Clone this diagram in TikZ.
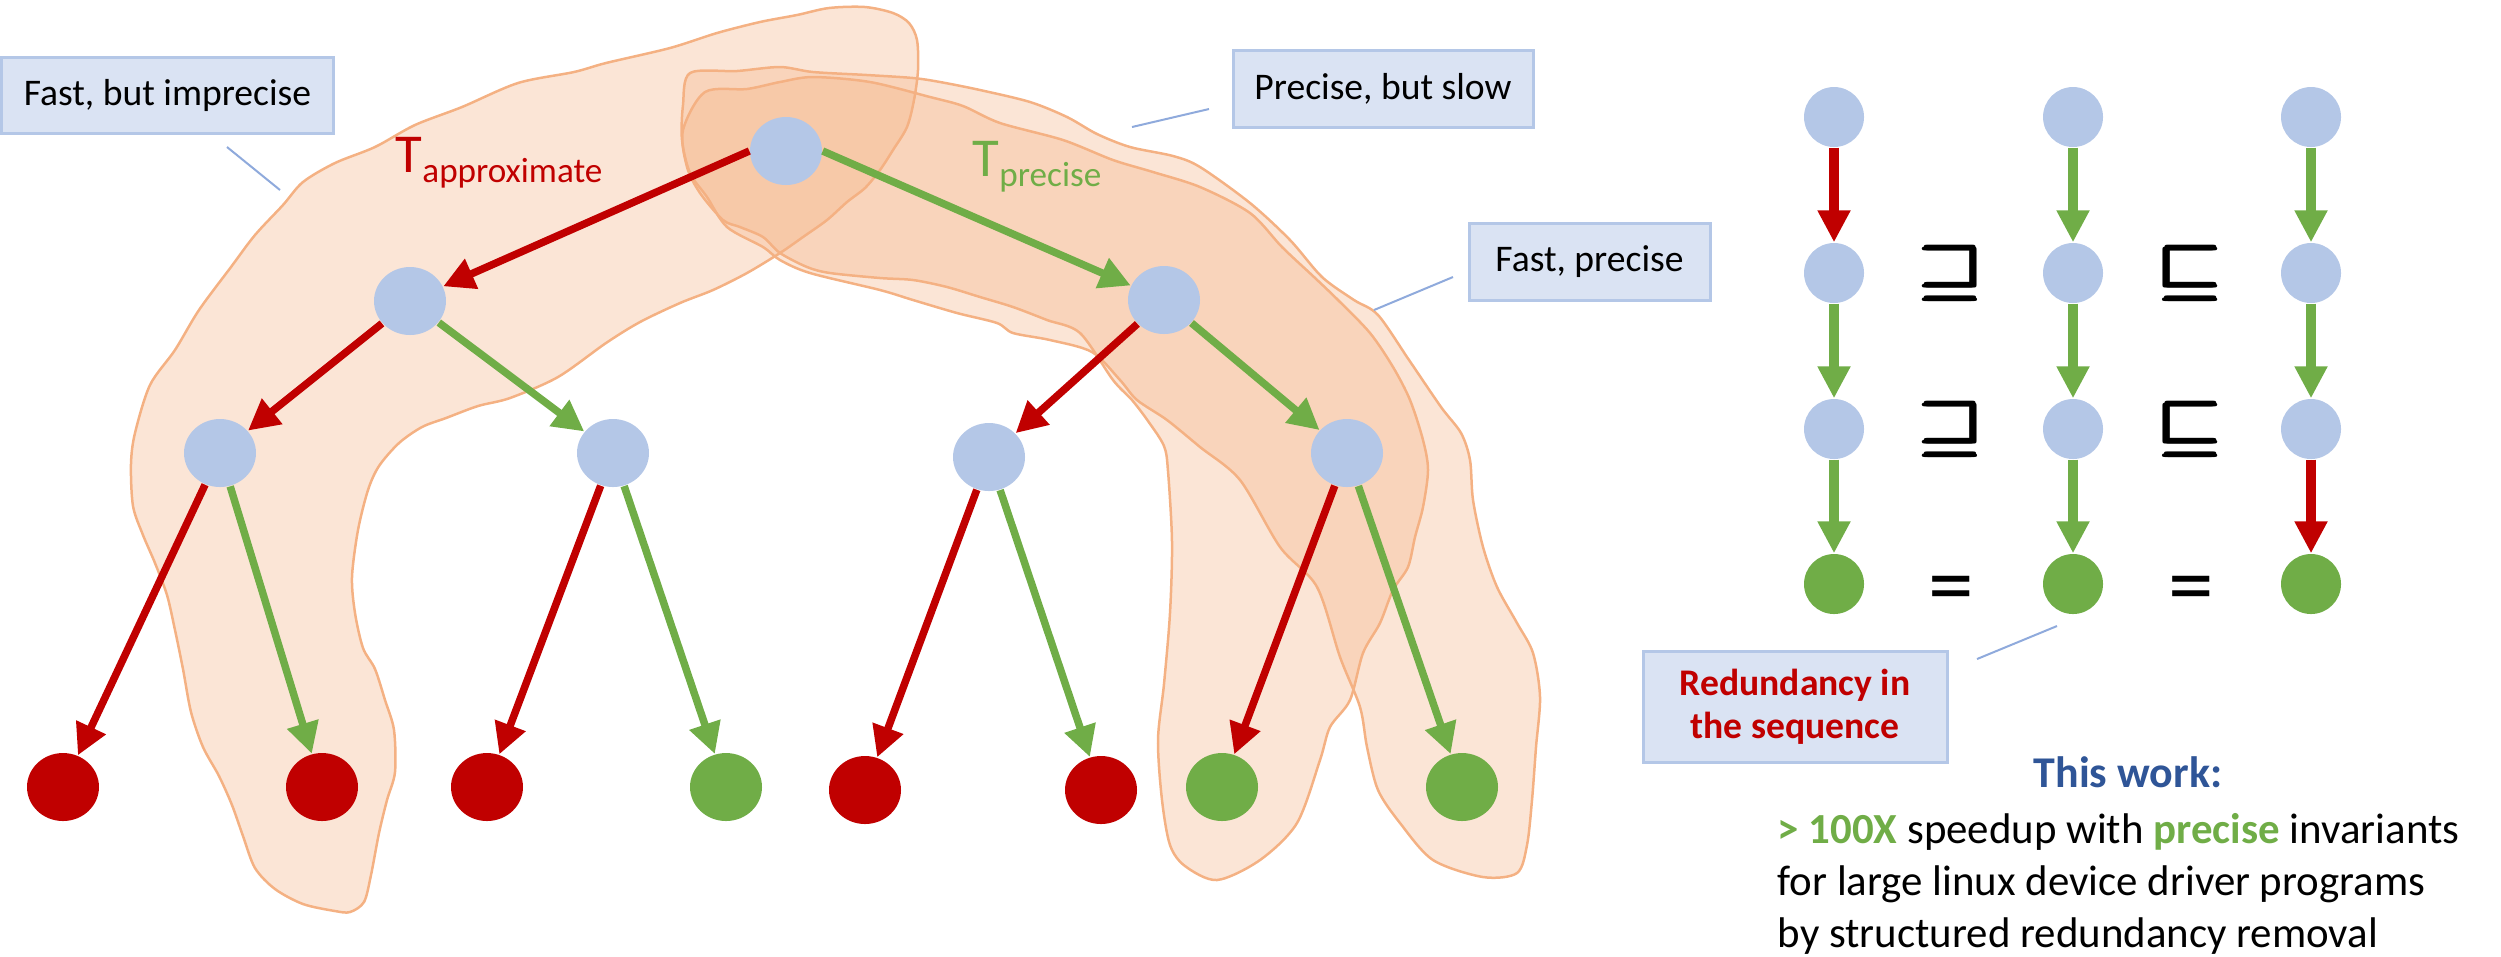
\documentclass[tikz,border=0pt]{standalone}
\usepackage{amsmath}
\usepackage{fontspec}
\setmainfont{Carlito}
\usepackage{graphicx}
\usetikzlibrary{arrows.meta,shapes.geometric}

\definecolor{stateblue}{HTML}{B4C7E7}
\definecolor{precisegreen}{HTML}{70AD47}
\definecolor{approxred}{HTML}{C00000}
\definecolor{regionpeach}{HTML}{F4B183}
\definecolor{calloutfill}{HTML}{DAE3F3}
\definecolor{calloutline}{HTML}{8FAADC}
\definecolor{workblue}{HTML}{2F5597}

\newcommand{\tsub}[1]{\raisebox{-1mm}{\fontsize{10}{12}\selectfont #1}}
\newcommand{\relsym}[1]{\scalebox{1.18}[1]{$\pmb{#1}$}}

\tikzset{
  innode/.style={ellipse, fill=stateblue, minimum width=7.2mm, minimum height=6.8mm, inner sep=0pt},
  redleaf/.style={innode, fill=approxred},
  greenleaf/.style={innode, fill=precisegreen},
  seqnode/.style={circle, fill=stateblue, minimum size=6mm, inner sep=0pt},
  seqgreen/.style={seqnode, fill=precisegreen},
  treearrow/.style={line width=0.75mm, -{Triangle[length=3.1mm, width=3.1mm]}},
  seqarrow/.style={line width=1mm, -{Triangle[length=3.2mm, width=3.1mm]}},
  region/.style={draw=regionpeach, line width=0.25mm, fill=regionpeach, fill opacity=0.33},
  callout/.style={draw=stateblue, line width=0.3mm, fill=calloutfill, inner sep=0pt, font=\fontsize{10.7}{12.2}\selectfont},
  leader/.style={draw=calloutline, line width=0.2mm},
  relation/.style={font=\fontsize{17.28}{20}\selectfont\boldmath, inner sep=0pt},
  equals/.style={font=\fontsize{26}{30}\selectfont, inner sep=0pt},
  tlabel/.style={font=\fontsize{15.6}{18}\selectfont, inner sep=0pt, anchor=base west},
  summary/.style={font=\fontsize{12.2}{14.8}\selectfont, inner sep=0pt, anchor=base west},
}

\begin{document}
\begin{tikzpicture}[x=0.1mm, y=-0.1mm]
  \useasboundingbox (0,0) rectangle (2501,956);

  % Highlighted runs through the tree
  \draw[region] plot[smooth cycle] coordinates {
    (865,7) (893,13) (909,23) (917,40) (918,70) (914,100) (907,127) (893,150)
    (880,170) (865,188) (847,202) (827,220) (803,237) (780,253) (747,273)
    (713,290) (680,303) (640,322) (606,343) (558,377) (510,398) (478,406)
    (446,418) (422,427) (399,443) (379,466) (368,490) (358,530) (352,577)
    (355,613) (363,648) (375,669) (385,700) (394,730) (395,772) (387,800)
    (379,833) (371,875) (364,902) (350,912) (335,911) (303,904) (275,889)
    (255,868) (243,836) (232,805) (219,776) (203,747) (191,712) (183,669)
    (175,630) (167,595) (155,563) (143,535) (133,506) (131,464) (135,433)
    (150,385) (175,350) (199,310) (231,267) (255,235) (283,205) (303,182)
    (335,163) (375,147) (415,125) (462,107) (518,83) (574,72) (606,63)
    (670,48) (717,33) (760,22) (797,15) (829,8)};
  \draw[region] plot[smooth cycle] coordinates {
    (690,73) (737,71) (780,67) (813,72) (867,75) (913,78) (940,82) (980,90)
    (1030,102) (1067,117) (1097,134) (1130,147) (1173,156) (1200,167)
    (1250,203) (1290,240) (1322,277) (1354,300) (1378,315) (1409,360)
    (1441,407) (1461,433) (1470,460) (1473,500) (1483,547) (1497,587)
    (1517,623) (1533,653) (1540,697) (1536,747) (1532,800) (1527,845)
    (1517,873) (1483,877) (1433,860) (1400,823) (1378,790) (1367,747)
    (1360,707) (1340,657) (1317,587) (1280,547) (1240,480) (1200,447)
    (1167,420) (1137,400) (1120,380) (1092,352) (1050,340) (1013,333)
    (997,323) (957,313) (913,300) (880,290) (810,273) (780,260) (763,247)
    (727,227) (707,197) (690,173) (682,140) (683,105)};
  \draw[region] plot[smooth cycle] coordinates {
    (705,92) (747,89) (780,82) (813,77) (870,82) (930,97) (963,106)
    (1000,123) (1063,140) (1113,160) (1153,172) (1200,187) (1250,213)
    (1282,247) (1314,277) (1338,300) (1370,333) (1393,367) (1410,400)
    (1423,440) (1428,470) (1423,507) (1415,537) (1408,567) (1393,590)
    (1380,623) (1363,653) (1350,700) (1330,727) (1320,760) (1297,823)
    (1260,860) (1217,880) (1185,866) (1170,845) (1162,800) (1158,740)
    (1164,684) (1170,613) (1172,542) (1168,471) (1164,446) (1148,421)
    (1132,400) (1113,380) (1080,333) (1047,320) (1013,307) (980,297)
    (947,287) (913,280) (880,278) (830,273) (807,267) (780,253) (763,237)
    (740,227) (723,220) (700,193) (687,167) (683,130)};

  % Tree of states
  \node[innode] (root) at (786,151) {};
  \node[innode] (left) at (410,301) {};
  \node[innode] (right) at (1164,300) {};
  \node[innode] (ll) at (220,453) {};
  \node[innode] (lr) at (613,453) {};
  \node[innode] (rl) at (989,457) {};
  \node[innode] (rr) at (1347,453) {};

  % Leaves
  \node[redleaf] (leaf1) at (63,787) {};
  \node[redleaf] (leaf2) at (322,787) {};
  \node[redleaf] (leaf3) at (487,787) {};
  \node[greenleaf] (leaf4) at (726,787) {};
  \node[redleaf] (leaf5) at (865,790) {};
  \node[redleaf] (leaf6) at (1101,790) {};
  \node[greenleaf] (leaf7) at (1222,787) {};
  \node[greenleaf] (leaf8) at (1462,787) {};

  % Transformer steps
  \draw[treearrow, approxred] (root.west) -- (left);
  \draw[treearrow, precisegreen] (root.east) -- (right);
  \draw[treearrow, approxred] (left) -- (ll);
  \draw[treearrow, precisegreen] (left) -- (lr);
  \draw[treearrow, approxred] (right) -- (rl);
  \draw[treearrow, precisegreen] (right) -- (rr);
  \draw[treearrow, approxred] (ll) -- (leaf1);
  \draw[treearrow, precisegreen] (ll) -- (leaf2);
  \draw[treearrow, approxred] (lr) -- (leaf3);
  \draw[treearrow, precisegreen] (lr) -- (leaf4);
  \draw[treearrow, approxred] (rl) -- (leaf5);
  \draw[treearrow, precisegreen] (rl) -- (leaf6);
  \draw[treearrow, approxred] (rr) -- (leaf7);
  \draw[treearrow, precisegreen] (rr) -- (leaf8);

  % Transformer names
  \node[tlabel, text=approxred] (tapprox) at (395,172) {T\tsub{approximate}};
  \node[tlabel, text=precisegreen] (tprecise) at (972,176) {T\tsub{precise}};

  % Callouts
  \node[callout, minimum width=33.2mm, minimum height=7.6mm] (fastbox) at (167.5,95) {Fast, but imprecise};
  \node[callout, minimum width=30mm, minimum height=7.7mm] (slowbox) at (1383,88.5) {Precise, but slow};
  \node[callout, minimum width=24.1mm, minimum height=7.7mm] (precbox) at (1589.5,261.5) {Fast, precise};
  \node[callout, minimum width=30.4mm, minimum height=11.1mm, text=approxred, align=center,
        font=\fontsize{10.7}{12.2}\selectfont\bfseries] (redbox) at (1795,706.5) {Redundancy in\\the sequence};

  \coordinate (fastleadA) at (227,147);
  \coordinate (fastleadB) at (280,190);
  \coordinate (slowleadA) at (1132,127);
  \coordinate (slowleadB) at (1209,109);
  \coordinate (precleadA) at (1374,310);
  \coordinate (precleadB) at (1453,277);
  \coordinate (redleadA) at (1977,659);
  \coordinate (redleadB) at (2057,626);
  \draw[leader] (fastleadA) -- (fastleadB);
  \draw[leader] (slowleadA) -- (slowleadB);
  \draw[leader] (precleadA) -- (precleadB);
  \draw[leader] (redleadA) -- (redleadB);

  % Three sequences side by side
  \node[seqnode] (sa1) at (1834,117) {};
  \node[seqnode] (sa2) at (1834,273) {};
  \node[seqnode] (sa3) at (1834,429) {};
  \node[seqgreen] (sa4) at (1834,584) {};
  \node[seqnode] (sb1) at (2073,117) {};
  \node[seqnode] (sb2) at (2073,273) {};
  \node[seqnode] (sb3) at (2073,429) {};
  \node[seqgreen] (sb4) at (2073,584) {};
  \node[seqnode] (sc1) at (2311,117) {};
  \node[seqnode] (sc2) at (2311,273) {};
  \node[seqnode] (sc3) at (2311,429) {};
  \node[seqgreen] (sc4) at (2311,584) {};

  \draw[seqarrow, approxred] (sa1) -- (sa2);
  \draw[seqarrow, precisegreen] (sa2) -- (sa3);
  \draw[seqarrow, precisegreen] (sa3) -- (sa4);
  \draw[seqarrow, precisegreen] (sb1) -- (sb2);
  \draw[seqarrow, precisegreen] (sb2) -- (sb3);
  \draw[seqarrow, precisegreen] (sb3) -- (sb4);
  \draw[seqarrow, precisegreen] (sc1) -- (sc2);
  \draw[seqarrow, precisegreen] (sc2) -- (sc3);
  \draw[seqarrow, approxred] (sc3) -- (sc4);

  % Order between the sequences
  \node[relation] (supa) at (1953,273) {\relsym{\sqsupseteq}};
  \node[relation] (supb) at (1953,429) {\relsym{\sqsupseteq}};
  \node[relation] (suba) at (2191,273) {\relsym{\sqsubseteq}};
  \node[relation] (subb) at (2191,429) {\relsym{\sqsubseteq}};
  \node[equals, anchor=base] (eqa) at (1951,615) {=};
  \node[equals, anchor=base] (eqb) at (2191,615) {=};

  % Summary
  \node[font=\fontsize{12.5}{15}\selectfont\bfseries, text=workblue, inner sep=0pt, anchor=base] (thiswork) at (2128,787) {This work:};
  \node[summary] (line1) at (1777,843) {\textcolor{precisegreen}{\bfseries > 100X} speedup with \textcolor{precisegreen}{\bfseries precise} invariants};
  \node[summary] (line2) at (1777,895) {for large linux device driver programs};
  \node[summary] (line3) at (1777,947) {by structured redundancy removal};
\end{tikzpicture}
\end{document}
